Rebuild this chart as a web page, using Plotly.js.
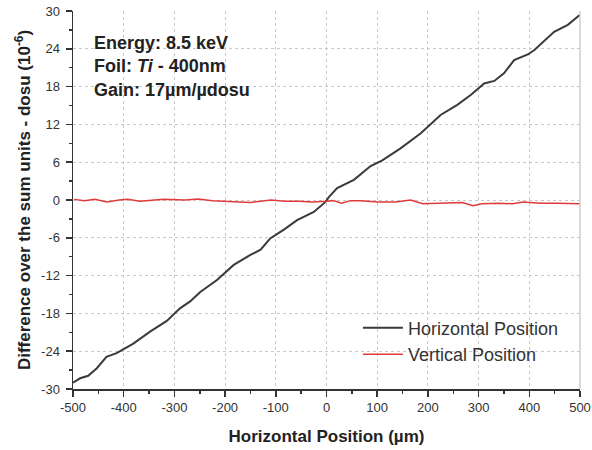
<!DOCTYPE html>
<html>
<head>
<meta charset="utf-8">
<script src="https://cdn.plot.ly/plotly-3.0.1.min.js"></script>
<style>html,body{margin:0;padding:0;background:#fff;}#chart{width:592px;height:450px;}</style>
</head>
<body>
<div id="chart"></div>
<script>
// Horizontal Position series (µm, 10^-6)
const horizX = [-500,-486,-470,-453,-434,-414,-381,-348,-315,-289,-269,-249,-216,-183,-150,-130,-111,-84,-58,-25,-2,5,21,54,87,110,146,186,225,258,285,311,331,350,370,397,410,449,476,500];
const horizY = [-29.0,-28.3,-27.9,-26.7,-24.9,-24.3,-22.8,-20.9,-19.2,-17.2,-16.1,-14.6,-12.7,-10.3,-8.7,-7.9,-6.1,-4.7,-3.2,-1.9,-0.3,0.5,1.9,3.2,5.4,6.3,8.2,10.6,13.5,15.1,16.7,18.5,18.9,20.1,22.2,23.1,23.8,26.7,27.8,29.4];
// Vertical Position series
const vertX = [-498,-477,-457,-433,-409,-392,-368,-341,-321,-280,-253,-225,-191,-150,-110,-82,-55,-28,0,13,30,47,67,102,136,166,190,217,268,289,306,340,367,388,422,456,500];
const vertY = [0.1,-0.1,0.1,-0.3,0.0,0.1,-0.2,0.0,0.1,0.0,0.15,-0.1,-0.2,-0.4,0.0,-0.2,-0.2,-0.3,-0.2,-0.1,-0.5,-0.1,-0.1,-0.3,-0.3,0.0,-0.6,-0.5,-0.4,-0.9,-0.6,-0.5,-0.6,-0.3,-0.5,-0.5,-0.6];
// Tick labels
const xTickVals = [-500,-400,-300,-200,-100,0,100,200,300,400,500];
const xTickText = ["-500","-400","-300","-200","-100","0","100","200","300","400","500"];
const yTickVals = [-30,-24,-18,-12,-6,0,6,12,18,24,30];
const yTickText = ["-30","-24","-18","-12","-6","0","6","12","18","24","30"];
const seriesNames = ["Horizontal Position","Vertical Position"];

const traces = [
  {x: horizX, y: horizY, name: seriesNames[0], mode: 'lines', line: {color: '#3a3a3a', width: 2}},
  {x: vertX, y: vertY, name: seriesNames[1], mode: 'lines', line: {color: '#e03a3a', width: 1.5}}
];

const layout = {
  width: 592, height: 450,
  margin: {l: 73, r: 12, t: 11, b: 61},
  paper_bgcolor: '#fff', plot_bgcolor: '#fff',
  font: {family: 'Liberation Sans, Arial, sans-serif', color: '#333', size: 13},
  showlegend: true,
  legend: {x: 0.562, y: 0.21, xanchor: 'left', yanchor: 'top', bgcolor: 'rgba(0,0,0,0)',
           font: {size: 18, color: '#333'}, tracegroupgap: 0, itemwidth: 40},
  xaxis: {
    range: [-500, 500], tickvals: xTickVals, ticktext: xTickText,
    showline: true, linecolor: '#333', linewidth: 1.5,
    ticks: 'outside', ticklen: 6, tickwidth: 1.5, tickcolor: '#333',
    minor: {dtick: 50, ticklen: 3, tickcolor: '#333', ticks: 'outside', showgrid: false},
    showgrid: true, gridcolor: '#c8c8c8', griddash: 'dot', gridwidth: 1,
    zeroline: false,
    title: {text: '<b>Horizontal Position (µm)</b>', font: {size: 17, color: '#222'}, standoff: 16},
    tickfont: {size: 13, color: '#333'}
  },
  yaxis: {
    range: [-30, 30], tickvals: yTickVals, ticktext: yTickText,
    showline: true, linecolor: '#333', linewidth: 1.5,
    ticks: 'outside', ticklen: 6, tickwidth: 1.5, tickcolor: '#333',
    ticklabelstandoff: 3,
    minor: {dtick: 3, ticklen: 3, tickcolor: '#333', ticks: 'outside', showgrid: false},
    showgrid: true, gridcolor: '#c8c8c8', griddash: 'dot', gridwidth: 1,
    zeroline: false,
    title: {text: '<b>Difference over the sum units - dosu (10<sup>-6</sup>)</b>', font: {size: 17, color: '#222'}, standoff: 6},
    tickfont: {size: 13, color: '#333'}
  },
  shapes: [
    {type: 'line', xref: 'paper', yref: 'paper', x0: 1, x1: 1, y0: 0, y1: 1, line: {color: '#cfcfcf', width: 1.5}}
  ],
  annotations: [
    {xref: 'paper', yref: 'paper', x: 0.038, y: 0.948, xanchor: 'left', yanchor: 'top', align: 'left', showarrow: false,
     text: '<b>Energy: 8.5 keV</b><br><b>Foil: <i>Ti</i> - 400nm</b><br><b>Gain: 17µm/µdosu</b>',
     font: {size: 18, color: '#222'}}
  ]
};

Plotly.newPlot('chart', traces, layout, {displayModeBar: false, staticPlot: true});
</script>
</body>
</html>
